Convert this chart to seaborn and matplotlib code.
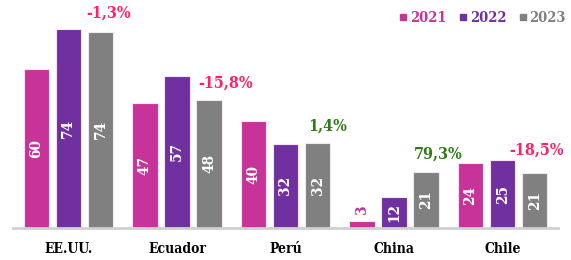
import matplotlib
matplotlib.use("Agg")
import matplotlib.pyplot as plt
import seaborn as sns
import pandas as pd
from matplotlib.lines import Line2D

countries = ["EE.UU.", "Ecuador", "Perú", "China", "Chile"]
years = ["2021", "2022", "2023"]
v2021 = [59.6, 46.9, 40.0, 2.6, 24.2]
v2022 = [74.4, 57.0, 31.6, 11.7, 25.4]
v2023 = [73.5, 48.0, 32.0, 21.0, 20.7]
pct_labels = ["-1,3%", "-15,8%", "1,4%", "79,3%", "-18,5%"]
pct_positive = [False, False, True, True, False]

colors = {"2021": "#C8339A", "2022": "#7030A0", "2023": "#808080"}
RED = "#FF1F6B"
GREEN = "#2E7D14"

# label offsets (pixels) relative to top-centre of the 2023 bar
pct_dx = [8, 17, 10, 12.5, 1.5]
pct_dy = [10, 8, 8, 9, 14]

rows = []
for i, c in enumerate(countries):
    for y, vals in zip(years, [v2021, v2022, v2023]):
        rows.append({"country": c, "year": y, "value": vals[i]})
df = pd.DataFrame(rows)

sns.set_theme(style="white")
plt.rcParams["font.family"] = ["DejaVu Serif", "DejaVu Sans"]
plt.rcParams["font.stretch"] = "condensed"

fig = plt.figure(figsize=(5.71, 2.60), dpi=100)
ax = fig.add_axes([13 / 571, 32 / 260, 545 / 571, 228 / 260])

sns.barplot(data=df, x="country", y="value", hue="year", order=countries,
            hue_order=years, palette=colors, saturation=1, width=0.885,
            gap=0.2, edgecolor="#F2E6F0", linewidth=0.8, ax=ax, legend=False,
            errorbar=None)

ax.set_ylim(0, 85.4)
ax.set_xlim(-0.51, 4.51)
ax.set_xlabel("")
ax.set_ylabel("")
ax.set_yticks([])
for s in ["top", "right", "left"]:
    ax.spines[s].set_visible(False)
ax.spines["bottom"].set_color("#D0D0D0")
ax.spines["bottom"].set_linewidth(2)
ax.tick_params(axis="x", length=0, pad=10)
for lbl in ax.get_xticklabels():
    lbl.set_fontweight("bold")
    lbl.set_fontsize(10)
    lbl.set_color("black")

PX = 72 / 100  # points per pixel

# value labels
for cont, y in zip(ax.containers, years):
    for bar in cont:
        h = bar.get_height()
        xc = bar.get_x() + bar.get_width() / 2
        txt = f"{h:.0f}"
        if h < 8:
            ax.annotate(txt, (xc, h), xytext=(0, 7 * PX),
                        textcoords="offset points", rotation=90,
                        ha="center", va="bottom", color=colors[y],
                        fontsize=11, fontweight="bold")
        else:
            ax.text(xc, h / 2, txt, rotation=90, ha="center", va="center",
                    color="white", fontsize=11, fontweight="bold")

# percent labels
c2023 = ax.containers[2]
for i, bar in enumerate(c2023):
    xc = bar.get_x() + bar.get_width() / 2
    ax.annotate(pct_labels[i], (xc, bar.get_height()),
                xytext=(pct_dx[i] * PX, pct_dy[i] * PX),
                textcoords="offset points", ha="center", va="bottom",
                color=GREEN if pct_positive[i] else RED, fontsize=11.5,
                fontweight="bold")

handles = [Line2D([0], [0], marker="s", linestyle="", markersize=5,
                  markerfacecolor=colors[y], markeredgecolor=colors[y])
           for y in years]
leg = fig.legend(handles, years, loc="center right", ncol=3, frameon=False,
                 bbox_to_anchor=(566 / 571, 1 - 18 / 260), borderaxespad=0,
                 borderpad=0, handletextpad=0.2, columnspacing=0.9,
                 handlelength=0.5, prop={"weight": "bold", "size": 10.5})
for t, y in zip(leg.get_texts(), years):
    t.set_color(colors[y])

fig.savefig("out.png", dpi=100)
